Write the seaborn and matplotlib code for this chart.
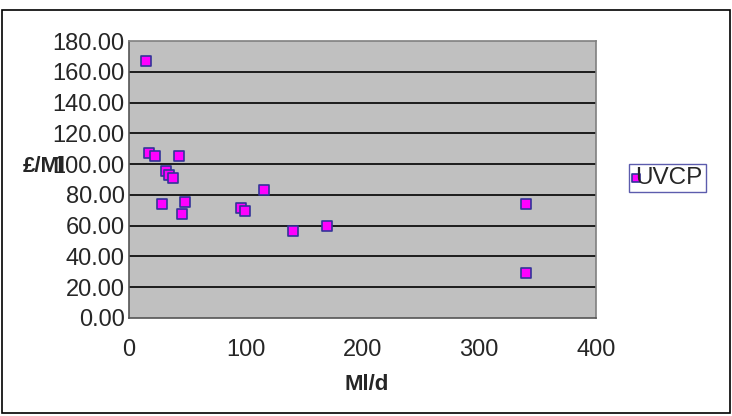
import matplotlib
matplotlib.use("Agg")
import matplotlib.pyplot as plt
from matplotlib.patches import Rectangle
import seaborn as sns
import pandas as pd

# flow (Ml/d) vs cost (£/Ml)
flow = [14.6, 17.1, 22.3, 42.8, 31.7, 34.3, 37.7, 28.5, 48.0, 45.1,
        95.7, 99.4, 115.6, 140.2, 169.9, 339.8, 339.8]
cost = [166.7, 107.1, 105.0, 105.2, 95.5, 92.7, 90.9, 74.3, 75.1, 67.5,
        71.2, 69.3, 82.9, 56.8, 59.5, 74.2, 29.2]
series = "UVCP"
yticks = [0, 20, 40, 60, 80, 100, 120, 140, 160, 180]
xticks = [0, 100, 200, 300, 400]

df = pd.DataFrame({"Ml/d": flow, "£/Ml": cost, "series": series})

sns.set_style("white")
plt.rcParams["font.family"] = ["Liberation Sans", "DejaVu Sans"]

W, H = 732, 416
fig = plt.figure(figsize=(W / 100, H / 100), dpi=100)
ax = fig.add_axes([129 / W, 1 - 318 / H, (596 - 129) / W, (318 - 41) / H])
ax.set_facecolor("#C0C0C0")

sns.scatterplot(data=df, x="Ml/d", y="£/Ml", ax=ax, marker="s", s=42,
                color="#FF00FF", edgecolor="#333399", linewidth=1.2,
                label=series, zorder=3)

ax.set_xlim(0, 400)
ax.set_ylim(0, 180)
ax.set_xticks(xticks)
ax.set_yticks(yticks)
ax.set_yticklabels([f"{v:.2f}" for v in yticks])
ax.tick_params(axis="both", labelsize=17, direction="out", length=5,
               width=1, color="#555555")
ax.tick_params(axis="y", pad=-2)
ax.tick_params(axis="x", pad=10)
for y in yticks[1:-1]:
    ax.axhline(y, color="black", lw=1.2, zorder=1)
for side in ["left", "bottom"]:
    ax.spines[side].set_color("#555555")
    ax.spines[side].set_linewidth(1.2)
for side in ["top", "right"]:
    ax.spines[side].set_color("#808080")
    ax.spines[side].set_linewidth(1.2)
ax.set_xlabel("")
ax.set_ylabel("")

fig.text(44 / W, 1 - 166 / H, "£/Ml", fontsize=16, fontweight="bold",
         ha="center", va="center")
fig.text(367 / W, 1 - 384 / H, "Ml/d", fontsize=16, fontweight="bold",
         ha="center", va="center")

leg = ax.legend(loc="center left", bbox_to_anchor=(629 / W, 1 - 178 / H),
                bbox_transform=fig.transFigure, frameon=True, fancybox=False,
                fontsize=17.5, handlelength=0.3, handletextpad=-0.15,
                borderpad=0.12, borderaxespad=0, markerscale=0.8)
leg.get_frame().set_edgecolor("#333399")
leg.get_frame().set_linewidth(1.0)

fig.patches.append(Rectangle((2 / W, 1 - 413 / H), 728 / W, 403 / H,
                             transform=fig.transFigure, fill=False,
                             edgecolor="black", lw=1.2))

fig.savefig("out.png", dpi=100)
